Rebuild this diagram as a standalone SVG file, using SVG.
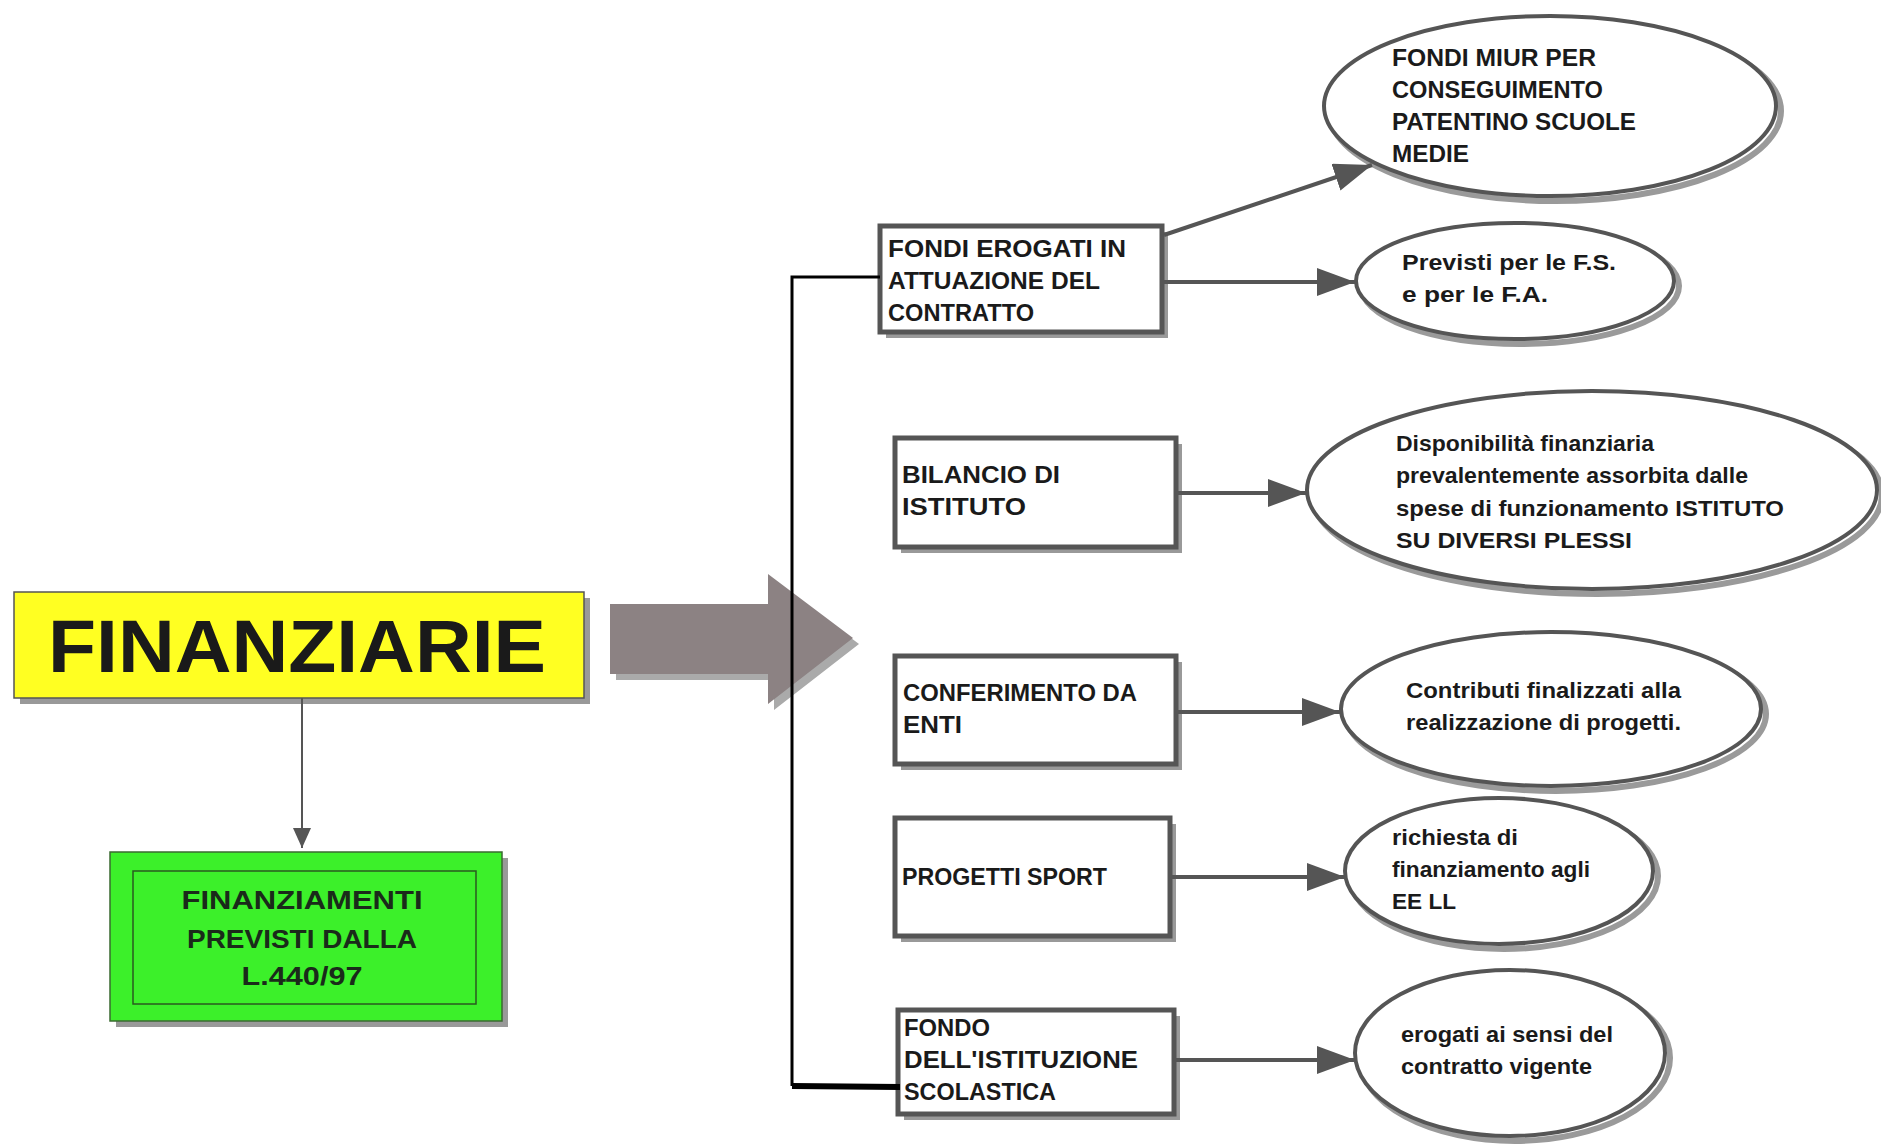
<svg xmlns="http://www.w3.org/2000/svg" width="1881" height="1148" viewBox="0 0 1881 1148">
<style>
text{font-family:"Liberation Sans","DejaVu Sans",sans-serif;fill:#1a1a1a}
.bt{font-size:23px;font-weight:bold}
.et{font-size:22px;font-weight:bold}
.box{fill:#fff;stroke:#555;stroke-width:5}
.bsh{fill:#999}
.ell{fill:#fff;stroke:#555;stroke-width:4}
.esh{fill:none;stroke:#9a9a9a;stroke-width:6}
.arr{stroke:#555;stroke-width:4;fill:none;marker-end:url(#ah)}
</style>
<defs>
<marker id="ah" markerUnits="userSpaceOnUse" markerWidth="40" markerHeight="30" refX="38" refY="14" orient="auto"><path d="M0,0 L38,14 L0,28 z" fill="#555"/></marker>
<marker id="ahs" markerUnits="userSpaceOnUse" markerWidth="22" markerHeight="20" refX="20" refY="9" orient="auto"><path d="M0,0 L20,9 L0,18 z" fill="#555"/></marker>
</defs>
<rect width="1881" height="1148" fill="#fff"/>

<g id="finanziarie">
<rect x="20" y="598" width="570" height="106" fill="#999"/>
<rect x="14" y="592" width="570" height="106" fill="#ffff22" stroke="#555" stroke-width="1.5"/>
<text x="48" y="672" font-size="74" font-weight="bold" textLength="498" lengthAdjust="spacingAndGlyphs">FINANZIARIE</text>
</g>

<g id="finanziamenti">
<rect x="116" y="858" width="392" height="169" fill="#999"/>
<rect x="110" y="852" width="392" height="169" fill="#3cf02a" stroke="#3a6a30" stroke-width="1.5"/>
<rect x="133" y="871" width="343" height="133" fill="none" stroke="#2a5a20" stroke-width="1.5"/>
<text x="302" y="909" font-size="26" font-weight="bold" text-anchor="middle" textLength="241" lengthAdjust="spacingAndGlyphs" style="fill:#1a2a1a">FINANZIAMENTI</text>
<text x="302" y="948" font-size="26" font-weight="bold" text-anchor="middle" textLength="230" lengthAdjust="spacingAndGlyphs" style="fill:#1a2a1a">PREVISTI DALLA</text>
<text x="302" y="985" font-size="26" font-weight="bold" text-anchor="middle" textLength="121" lengthAdjust="spacingAndGlyphs" style="fill:#1a2a1a">L.440/97</text>
</g>

<g id="big-arrow">
<path d="M616,610 L774,610 L774,580 L859,644 L774,710 L774,680 L616,680 z" fill="#aaa"/>
<path d="M610,604 L768,604 L768,574 L853,638 L768,704 L768,674 L610,674 z" fill="#8c8283"/>
</g>

<g id="box-fondi-erogati">
<rect class="bsh" x="886" y="232" width="282" height="106"/>
<rect class="box" x="880" y="226" width="282" height="106"/>
<text class="bt" x="888" y="257" textLength="238" lengthAdjust="spacingAndGlyphs">FONDI EROGATI IN</text>
<text class="bt" x="888" y="289" textLength="212" lengthAdjust="spacingAndGlyphs">ATTUAZIONE DEL</text>
<text class="bt" x="888" y="321" textLength="146" lengthAdjust="spacingAndGlyphs">CONTRATTO</text>
</g>

<g id="box-bilancio">
<rect class="bsh" x="901" y="444" width="281" height="109"/>
<rect class="box" x="895" y="438" width="281" height="109"/>
<text class="bt" x="902" y="483" textLength="158" lengthAdjust="spacingAndGlyphs">BILANCIO DI</text>
<text class="bt" x="902" y="515" textLength="124" lengthAdjust="spacingAndGlyphs">ISTITUTO</text>
</g>

<g id="box-conferimento">
<rect class="bsh" x="901" y="662" width="281" height="108"/>
<rect class="box" x="895" y="656" width="281" height="108"/>
<text class="bt" x="903" y="701" textLength="234" lengthAdjust="spacingAndGlyphs">CONFERIMENTO DA</text>
<text class="bt" x="903" y="733" textLength="59" lengthAdjust="spacingAndGlyphs">ENTI</text>
</g>

<g id="box-progetti">
<rect class="bsh" x="901" y="824" width="275" height="118"/>
<rect class="box" x="895" y="818" width="275" height="118"/>
<text class="bt" x="902" y="885" textLength="205" lengthAdjust="spacingAndGlyphs">PROGETTI SPORT</text>
</g>

<g id="box-fondo-istituzione">
<rect class="bsh" x="904" y="1016" width="276" height="104"/>
<rect class="box" x="898" y="1010" width="276" height="104"/>
<text class="bt" x="904" y="1036" textLength="86" lengthAdjust="spacingAndGlyphs">FONDO</text>
<text class="bt" x="904" y="1068" textLength="234" lengthAdjust="spacingAndGlyphs">DELL'ISTITUZIONE</text>
<text class="bt" x="904" y="1100" textLength="152" lengthAdjust="spacingAndGlyphs">SCOLASTICA</text>
</g>

<g id="ell-miur">
<ellipse class="esh" cx="1555" cy="111" rx="226" ry="90"/>
<ellipse class="ell" cx="1550" cy="106" rx="226" ry="90"/>
<text class="bt" x="1392" y="66" textLength="204" lengthAdjust="spacingAndGlyphs">FONDI MIUR PER</text>
<text class="bt" x="1392" y="98" textLength="211" lengthAdjust="spacingAndGlyphs">CONSEGUIMENTO</text>
<text class="bt" x="1392" y="130" textLength="244" lengthAdjust="spacingAndGlyphs">PATENTINO SCUOLE</text>
<text class="bt" x="1392" y="162" textLength="77" lengthAdjust="spacingAndGlyphs">MEDIE</text>
</g>

<g id="ell-previsti">
<ellipse class="esh" cx="1520" cy="286" rx="159" ry="58"/>
<ellipse class="ell" cx="1515" cy="281" rx="159" ry="58"/>
<text class="et" x="1402" y="270" textLength="214" lengthAdjust="spacingAndGlyphs">Previsti per le F.S.</text>
<text class="et" x="1402" y="302" textLength="146" lengthAdjust="spacingAndGlyphs">e per le F.A.</text>
</g>

<g id="ell-disponibilita">
<ellipse class="esh" cx="1597" cy="495" rx="285" ry="99"/>
<ellipse class="ell" cx="1592" cy="490" rx="285" ry="99"/>
<text class="et" x="1396" y="451" textLength="258" lengthAdjust="spacingAndGlyphs">Disponibilità finanziaria</text>
<text class="et" x="1396" y="483" textLength="352" lengthAdjust="spacingAndGlyphs">prevalentemente assorbita dalle</text>
<text class="et" x="1396" y="516" textLength="388" lengthAdjust="spacingAndGlyphs">spese di funzionamento ISTITUTO</text>
<text class="et" x="1396" y="548" textLength="236" lengthAdjust="spacingAndGlyphs">SU DIVERSI PLESSI</text>
</g>

<g id="ell-contributi">
<ellipse class="esh" cx="1556" cy="714" rx="210" ry="77"/>
<ellipse class="ell" cx="1551" cy="709" rx="210" ry="77"/>
<text class="et" x="1406" y="698" textLength="275" lengthAdjust="spacingAndGlyphs">Contributi finalizzati alla</text>
<text class="et" x="1406" y="730" textLength="275" lengthAdjust="spacingAndGlyphs">realizzazione di progetti.</text>
</g>

<g id="ell-richiesta">
<ellipse class="esh" cx="1504" cy="876" rx="154" ry="73"/>
<ellipse class="ell" cx="1499" cy="871" rx="154" ry="73"/>
<text class="et" x="1392" y="845" textLength="126" lengthAdjust="spacingAndGlyphs">richiesta di</text>
<text class="et" x="1392" y="877" textLength="198" lengthAdjust="spacingAndGlyphs">finanziamento agli</text>
<text class="et" x="1392" y="909" textLength="64" lengthAdjust="spacingAndGlyphs">EE LL</text>
</g>

<g id="ell-erogati">
<ellipse class="esh" cx="1515" cy="1058" rx="155" ry="83"/>
<ellipse class="ell" cx="1510" cy="1053" rx="155" ry="83"/>
<text class="et" x="1401" y="1042" textLength="212" lengthAdjust="spacingAndGlyphs">erogati ai sensi del</text>
<text class="et" x="1401" y="1074" textLength="191" lengthAdjust="spacingAndGlyphs">contratto vigente</text>
</g>

<g id="connectors">
<line x1="302" y1="698" x2="302" y2="848" stroke="#555" stroke-width="2" marker-end="url(#ahs)"/>
<polyline points="880,277 792,277 792,1086" fill="none" stroke="#000" stroke-width="3"/>
<line x1="792" y1="1086" x2="900" y2="1087" stroke="#000" stroke-width="6"/>
<line class="arr" x1="1164" y1="235" x2="1372" y2="165"/>
<line class="arr" x1="1164" y1="282" x2="1355" y2="282"/>
<line class="arr" x1="1178" y1="493" x2="1306" y2="493"/>
<line class="arr" x1="1178" y1="712" x2="1340" y2="712"/>
<line class="arr" x1="1172" y1="877" x2="1345" y2="877"/>
<line class="arr" x1="1176" y1="1060" x2="1355" y2="1060"/>
</g>
</svg>
